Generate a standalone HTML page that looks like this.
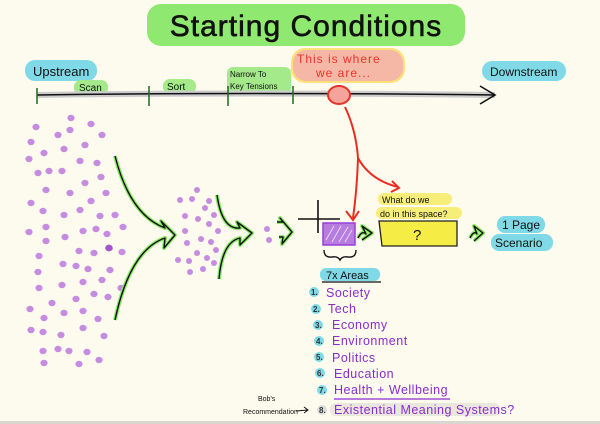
<!DOCTYPE html>
<html><head><meta charset="utf-8"><style>
html,body{margin:0;padding:0;background:#fdfbee;}
svg{display:block}
text{font-family:"Liberation Sans",sans-serif;}
</style></head><body>
<svg width="600" height="424" viewBox="0 0 600 424" xmlns="http://www.w3.org/2000/svg">
<rect width="600" height="424" fill="#fdfbee"/>
<rect x="0" y="421" width="600" height="3" fill="#d8d8d0"/>
<rect x="147" y="4" width="318" height="42" rx="14" fill="#8fe86f"/>
<text x="306" y="36" font-size="30" text-anchor="middle" fill="#111" stroke="#111" stroke-width="0.6" letter-spacing="1">Starting   Conditions</text>
<rect x="25" y="60" width="72" height="21" rx="10" fill="#7fd9e6"/>
<text x="33" y="76" font-size="13" fill="#111">Upstream</text>
<rect x="482" y="61" width="84" height="20" rx="10" fill="#7fd9e6"/>
<text x="490" y="76" font-size="12" fill="#111">Downstream</text>
<rect x="74" y="80" width="34" height="15" rx="7" fill="#a4ea8a"/>
<text x="79" y="91" font-size="10" fill="#111">Scan</text>
<rect x="163" y="79" width="33" height="15" rx="7" fill="#a4ea8a"/>
<text x="167" y="90" font-size="10" fill="#111">Sort</text>
<rect x="227" y="67" width="64" height="27" rx="6" fill="#a4ea8a"/>
<text x="230" y="77" font-size="8" fill="#111">Narrow To</text>
<text x="230" y="89" font-size="8" fill="#111">Key Tensions</text>
<rect x="291" y="48" width="114" height="35" rx="14" fill="#fde07a"/>
<rect x="293" y="50" width="110" height="31" rx="13" fill="#f6b8a6"/>
<text x="297" y="63" font-size="12" fill="#e8332a" letter-spacing="1">This is where</text>
<text x="316" y="77" font-size="12" fill="#e8332a" letter-spacing="1">we are...</text>
<path d="M37 95 Q250 92 495 95" stroke="#ccc" stroke-width="6" fill="none"/>
<path d="M37 95 Q250 92 495 95" stroke="#111" stroke-width="1.5" fill="none"/>
<path d="M480 86 L495 95 L480 104" stroke="#111" stroke-width="1.6" fill="none"/>
<g stroke="#1e6a1e" stroke-width="1.5">
<line x1="37" y1="88" x2="37" y2="104"/><line x1="149" y1="86" x2="149" y2="106"/>
<line x1="228" y1="86" x2="228" y2="106"/><line x1="293" y1="86" x2="293" y2="104"/></g>
<ellipse cx="339" cy="95" rx="11" ry="9" fill="#f4a49a" stroke="#e8332a" stroke-width="2"/>
<g stroke="#ee2b22" stroke-width="2" fill="none">
<path d="M345 107 Q356 130 358 158 Q357 190 353 218"/>
<path d="M346 211 L353 220 L359 211"/>
<path d="M358 158 Q370 180 398 187"/>
<path d="M392 181 L399 188 L391 192"/>
</g>
<g fill="#c58ce0">
<ellipse cx="71" cy="118" rx="3.6" ry="3.2"/><ellipse cx="36" cy="127" rx="3.6" ry="3.2"/><ellipse cx="91" cy="124" rx="3.6" ry="3.2"/><ellipse cx="70" cy="130" rx="3.6" ry="3.2"/><ellipse cx="58" cy="135" rx="3.6" ry="3.2"/><ellipse cx="102" cy="135" rx="3.6" ry="3.2"/><ellipse cx="31" cy="142" rx="3.6" ry="3.2"/><ellipse cx="85" cy="145" rx="3.6" ry="3.2"/><ellipse cx="64" cy="149" rx="3.6" ry="3.2"/><ellipse cx="44" cy="153" rx="3.6" ry="3.2"/><ellipse cx="29" cy="159" rx="3.6" ry="3.2"/><ellipse cx="80" cy="161" rx="3.6" ry="3.2"/><ellipse cx="97" cy="163" rx="3.6" ry="3.2"/><ellipse cx="38" cy="173" rx="3.6" ry="3.2"/><ellipse cx="49" cy="171" rx="3.6" ry="3.2"/><ellipse cx="62" cy="171" rx="3.6" ry="3.2"/><ellipse cx="101" cy="177" rx="3.6" ry="3.2"/><ellipse cx="85" cy="183" rx="3.6" ry="3.2"/><ellipse cx="46" cy="190" rx="3.6" ry="3.2"/><ellipse cx="70" cy="193" rx="3.6" ry="3.2"/><ellipse cx="106" cy="193" rx="3.6" ry="3.2"/><ellipse cx="31" cy="203" rx="3.6" ry="3.2"/><ellipse cx="91" cy="201" rx="3.6" ry="3.2"/><ellipse cx="43" cy="211" rx="3.6" ry="3.2"/><ellipse cx="80" cy="210" rx="3.6" ry="3.2"/><ellipse cx="64" cy="215" rx="3.6" ry="3.2"/><ellipse cx="100" cy="216" rx="3.6" ry="3.2"/><ellipse cx="115" cy="215" rx="3.6" ry="3.2"/><ellipse cx="46" cy="227" rx="3.6" ry="3.2"/><ellipse cx="123" cy="227" rx="3.6" ry="3.2"/><ellipse cx="29" cy="232" rx="3.6" ry="3.2"/><ellipse cx="83" cy="231" rx="3.6" ry="3.2"/><ellipse cx="96" cy="229" rx="3.6" ry="3.2"/><ellipse cx="107" cy="234" rx="3.6" ry="3.2"/><ellipse cx="65" cy="237" rx="3.6" ry="3.2"/><ellipse cx="46" cy="241" rx="3.6" ry="3.2"/><ellipse cx="109" cy="248" rx="3.8" ry="3.4" fill="#a455cc"/><ellipse cx="79" cy="251" rx="3.6" ry="3.2"/><ellipse cx="94" cy="253" rx="3.6" ry="3.2"/><ellipse cx="122" cy="252" rx="3.6" ry="3.2"/><ellipse cx="39" cy="256" rx="3.6" ry="3.2"/><ellipse cx="63" cy="264" rx="3.6" ry="3.2"/><ellipse cx="76" cy="266" rx="3.6" ry="3.2"/><ellipse cx="88" cy="269" rx="3.6" ry="3.2"/><ellipse cx="110" cy="270" rx="3.6" ry="3.2"/><ellipse cx="38" cy="272" rx="3.6" ry="3.2"/><ellipse cx="102" cy="280" rx="3.6" ry="3.2"/><ellipse cx="83" cy="282" rx="3.6" ry="3.2"/><ellipse cx="62" cy="285" rx="3.6" ry="3.2"/><ellipse cx="39" cy="288" rx="3.6" ry="3.2"/><ellipse cx="121" cy="288" rx="3.6" ry="3.2"/><ellipse cx="94" cy="294" rx="3.6" ry="3.2"/><ellipse cx="108" cy="297" rx="3.6" ry="3.2"/><ellipse cx="76" cy="299" rx="3.6" ry="3.2"/><ellipse cx="52" cy="303" rx="3.6" ry="3.2"/><ellipse cx="30" cy="309" rx="3.6" ry="3.2"/><ellipse cx="44" cy="318" rx="3.6" ry="3.2"/><ellipse cx="83" cy="311" rx="3.6" ry="3.2"/><ellipse cx="64" cy="313" rx="3.6" ry="3.2"/><ellipse cx="98" cy="319" rx="3.6" ry="3.2"/><ellipse cx="83" cy="328" rx="3.6" ry="3.2"/><ellipse cx="31" cy="330" rx="3.6" ry="3.2"/><ellipse cx="43" cy="332" rx="3.6" ry="3.2"/><ellipse cx="61" cy="335" rx="3.6" ry="3.2"/><ellipse cx="104" cy="336" rx="3.6" ry="3.2"/><ellipse cx="43" cy="351" rx="3.6" ry="3.2"/><ellipse cx="58" cy="349" rx="3.6" ry="3.2"/><ellipse cx="69" cy="351" rx="3.6" ry="3.2"/><ellipse cx="87" cy="352" rx="3.6" ry="3.2"/><ellipse cx="99" cy="360" rx="3.6" ry="3.2"/><ellipse cx="44" cy="363" rx="3.6" ry="3.2"/><ellipse cx="79" cy="364" rx="3.6" ry="3.2"/>
<circle cx="197" cy="190" r="3"/><circle cx="180" cy="200" r="3"/><circle cx="192" cy="199" r="3"/><circle cx="209" cy="201" r="3"/><circle cx="205" cy="208" r="3"/><circle cx="214" cy="215" r="3"/><circle cx="185" cy="216" r="3"/><circle cx="198" cy="219" r="3"/><circle cx="209" cy="224" r="3"/><circle cx="185" cy="231" r="3"/><circle cx="218" cy="231" r="3"/><circle cx="201" cy="239" r="3"/><circle cx="211" cy="242" r="3"/><circle cx="187" cy="243" r="3"/><circle cx="216" cy="250" r="3"/><circle cx="197" cy="253" r="3"/><circle cx="178" cy="260" r="3"/><circle cx="189" cy="261" r="3"/><circle cx="207" cy="258" r="3"/><circle cx="214" cy="263" r="3"/><circle cx="203" cy="269" r="3"/><circle cx="190" cy="272" r="3"/>
<circle cx="267" cy="229" r="3"/><circle cx="269" cy="240" r="3"/>
</g>
<g fill="none" stroke-linejoin="round">
<g stroke="#8ee86a" stroke-width="4">
<path d="M115 156 Q130 215 165 228 L161 221 L175 235 L164 248 L165 238 Q130 250 115 320"/>
<path d="M217 195 Q222 230 240 228 L237 222 L252 233 L240 245 L240 238 Q222 242 219 279"/>
<path d="M277 222 L283 222 L280 218 L292 232 L282 244 L283 237 L279 237"/>
<path d="M358 238 Q362 230 366 234 L362 226 L372 233 L362 240"/>
<path d="M470 238 Q474 230 477 234 L474 226 L483 233 L474 241"/>
</g>
<g stroke="#111" stroke-width="1.4">
<path d="M115 156 Q130 215 165 228 L161 221 L175 235 L164 248 L165 238 Q130 250 115 320"/>
<path d="M217 195 Q222 230 240 228 L237 222 L252 233 L240 245 L240 238 Q222 242 219 279"/>
<path d="M277 222 L283 222 L280 218 L292 232 L282 244 L283 237 L279 237"/>
<path d="M358 238 Q362 230 366 234 L362 226 L372 233 L362 240"/>
<path d="M470 238 Q474 230 477 234 L474 226 L483 233 L474 241"/>
</g>
</g>
<g stroke="#111" stroke-width="1.6"><line x1="298" y1="219" x2="340" y2="219"/><line x1="318" y1="200" x2="318" y2="233"/></g>
<rect x="323" y="223" width="32" height="22" fill="#b67ce0" stroke="#9a3fd8" stroke-width="1.5"/>
<g stroke="#e8d8f6" stroke-width="1"><line x1="326" y1="240" x2="334" y2="226"/><line x1="332" y1="242" x2="341" y2="226"/><line x1="339" y1="242" x2="348" y2="227"/><line x1="345" y1="242" x2="352" y2="230"/></g>
<path d="M324 250 Q324 258 332 257 Q338 256 340 260 Q342 256 348 257 Q356 258 356 250" stroke="#111" stroke-width="1.4" fill="none"/>
<rect x="378" y="193" width="74" height="12" rx="6" fill="#f6ee78"/>
<rect x="376" y="207" width="86" height="12" rx="6" fill="#f6ee78"/>
<text x="382" y="203" font-size="9" fill="#111">What do we</text>
<text x="380" y="217" font-size="9" fill="#111">do in this space?</text>
<path d="M379 221 L457 221 L457 246 L382 246 Z" fill="#f5ec45" stroke="#222" stroke-width="1.3"/>
<text x="413" y="240" font-size="15" fill="#111">?</text>
<rect x="497" y="216" width="48" height="17" rx="8" fill="#7fd9e6"/>
<rect x="491" y="234" width="62" height="17" rx="8" fill="#7fd9e6"/>
<text x="502" y="229" font-size="12" fill="#111">1 Page</text>
<text x="495" y="247" font-size="12" fill="#111">Scenario</text>
<rect x="320" y="268" width="60" height="13" rx="6" fill="#7fd9e6"/>
<line x1="322" y1="282" x2="381" y2="282" stroke="#111" stroke-width="1.3"/>
<text x="326" y="279" font-size="11" fill="#111">7x Areas</text>
<g fill="#7fd9e6"><circle cx="314" cy="292" r="5"/><circle cx="316" cy="309" r="5"/><circle cx="318" cy="325" r="5"/><circle cx="319" cy="341" r="5"/><circle cx="319" cy="357" r="5"/><circle cx="320" cy="373" r="5"/><circle cx="322" cy="390" r="5"/></g>
<circle cx="322" cy="410" r="5" fill="#ddd"/>
<rect x="330" y="403" width="170" height="13" rx="6" fill="#eae8dc"/>
<g font-size="8" fill="#333" font-weight="bold"><text x="311" y="295">1.</text><text x="313" y="312">2.</text><text x="315" y="328">3.</text><text x="316" y="344">4.</text><text x="316" y="360">5.</text><text x="317" y="376">6.</text><text x="319" y="393">7.</text><text x="319" y="413">8.</text></g>
<g font-size="12.5" fill="#8a2cd0" letter-spacing="0.5">
<text x="326" y="297">Society</text><text x="328" y="313">Tech</text><text x="332" y="329">Economy</text><text x="332" y="345">Environment</text><text x="332" y="362">Politics</text><text x="334" y="378">Education</text><text x="334" y="394">Health + Wellbeing</text><text x="334" y="414">Existential Meaning Systems?</text>
</g>
<line x1="334" y1="399" x2="450" y2="399" stroke="#8a2cd0" stroke-width="1.3"/>
<text x="258" y="401" font-size="7" fill="#111">Bob's</text>
<text x="243" y="414" font-size="7" fill="#111">Recommendation</text>
<path d="M296 411 L308 410 M304 407 L308 410 L304 413" stroke="#111" stroke-width="1" fill="none"/>
</svg>
</body></html>
